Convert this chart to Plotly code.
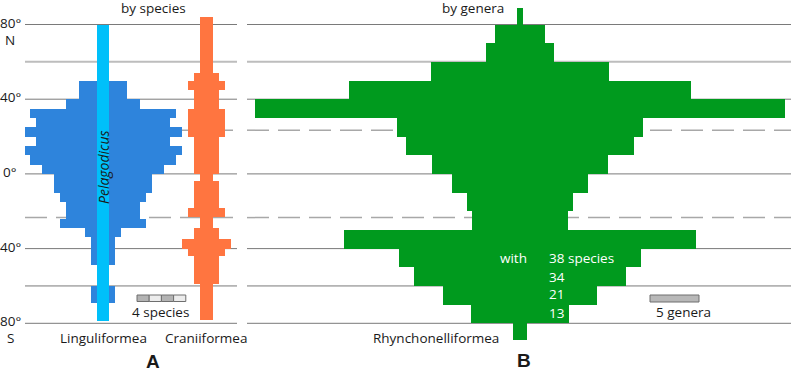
import plotly.graph_objects as go

# ---------------- data ----------------
# A: species per latitude band (band top / bottom in degrees, + = N)
LING_TOP = [50, 40, 35, 30, 25, 20, 15, 10, 5, 0, -10, -15, -24, -29, -34, -60]
LING_BOT = [40, 35, 30, 25, 20, 15, 10, 5, 0, -10, -15, -24, -29, -34, -49, -69]
LING_N = [4, 6, 12, 11, 13, 11, 13, 12, 10, 8, 7, 6, 7, 3, 2, 2]

PELAG_TOP = [80]
PELAG_BOT = [-79]
PELAG_N = [1]

CRAN_TOP = [84, 54, 50, 45, 35, 20, 0, -4, -18, -23, -29, -35, -40, -44, -59]
CRAN_BOT = [54, 50, 45, 35, 20, 0, -4, -18, -23, -29, -35, -40, -44, -59, -78]
CRAN_N = [1, 2, 3, 2, 3, 2, 1, 2, 3, 1, 2, 4, 3, 2, 1]

# B: genera per latitude band
RHYN_TOP = [89, 80, 70, 60, 50, 40, 30, 20, 10, 0, -10, -20, -30, -40, -50, -60, -70, -80]
RHYN_BOT = [80, 70, 60, 50, 40, 30, 20, 10, 0, -10, -20, -30, -40, -50, -60, -70, -80, -89]
RHYN_N = [0.7, 5.1, 7.0, 18.2, 34.8, 54.0, 25.2, 23.3, 17.9, 13.8, 10.9, 9.7,
          35.9, 24.6, 21.6, 15.8, 9.9, 1.5]

SPECIES_LABELS = ["38 species", "34", "21", "13"]
SPECIES_LABEL_LAT = [-45, -55, -64.5, -74.3]

GRID_LATS = [80, 60, 40, 23.4, 0, -23.4, -40, -60, -80]
GRID_KIND = ["solid", "light", "solid", "dash", "solid", "dash", "solid", "solid", "solid"]
LAT_LABELS = ["80°", "40°", "0°", "40°", "80°"]
LAT_LABEL_LAT = [80, 40, 0, -40, -80]

# ---------------- geometry ----------------
W, H = 791, 374
PX_PER_DEG = 1.8675
EQ_PX = 173.9


def lat_of(py):
    return (EQ_PX - py) / PX_PER_DEG


SP_PX = 12.2   # px per species
GE_PX = 9.8    # px per genus
L0, L1 = 25, 237
R0, R1 = 247, 791
LING_C = (103 - L0) / SP_PX
CRAN_C = (206.5 - L0) / SP_PX
RHYN_CPX = 520

BLUE = "#2E84DC"
CYAN = "#00C0FA"
ORANGE = "#FF7540"
GREEN = "#009A1E"
FONT = "Open Sans"
FS = 13.5
TXT = "#1a1a1a"


def kite(top, bot, n, center, color, xa, name):
    y = [(t + b) / 2 for t, b in zip(top, bot)]
    w = [t - b for t, b in zip(top, bot)]
    base = [center - v / 2 for v in n]
    return go.Bar(orientation="h", y=y, x=n, base=base, width=w, name=name,
                  marker=dict(color=color, line=dict(width=0)),
                  xaxis=xa, yaxis="y", cliponaxis=False, showlegend=False,
                  hoverinfo="skip")


fig = go.Figure()
fig.add_trace(kite(LING_TOP, LING_BOT, LING_N, LING_C, BLUE, "x", "Linguliformea"))
fig.add_trace(kite(PELAG_TOP, PELAG_BOT, PELAG_N, LING_C, CYAN, "x", "Pelagodicus"))
fig.add_trace(kite(CRAN_TOP, CRAN_BOT, CRAN_N, CRAN_C, ORANGE, "x", "Craniiformea"))
fig.add_trace(kite(RHYN_TOP, RHYN_BOT, RHYN_N, 0, GREEN, "x2", "Rhynchonelliformea"))

shapes = []
for lat, kind in zip(GRID_LATS, GRID_KIND):
    for xr in ["x domain", "x2 domain"]:
        if kind == "solid":
            line = dict(color="#7a7a7a", width=1)
        elif kind == "light":
            line = dict(color="#bdbdbd", width=2)
        else:
            line = dict(color="#a8a8a8", width=1.5, dash="22px,9px")
        shapes.append(dict(type="line", xref=xr, yref="y", x0=0, x1=1,
                           y0=lat, y1=lat, line=line, layer="below"))

# scale bar: 4 species (alternating segments)
sb_x0 = (137 - L0) / SP_PX
sb_y0, sb_y1 = lat_of(301.5), lat_of(295)
for i in range(4):
    shapes.append(dict(type="rect", xref="x", yref="y",
                       x0=sb_x0 + i, x1=sb_x0 + i + 1, y0=sb_y0, y1=sb_y1,
                       fillcolor="#b3b3b3" if i % 2 == 0 else "#ececec",
                       line=dict(color="#6e6e6e", width=1), layer="above"))
# scale bar: 5 genera
gb_x0 = (650 - RHYN_CPX) / GE_PX
shapes.append(dict(type="rect", xref="x2", yref="y",
                   x0=gb_x0, x1=gb_x0 + 5, y0=lat_of(302), y1=lat_of(295),
                   fillcolor="#b8b8b8", line=dict(color="#6e6e6e", width=1),
                   layer="above"))

ann = []


def txt(text, px, py, size=FS, color=TXT, xanchor="center", bold=False,
        family=FONT, angle=0, italic=False):
    t = text
    if bold:
        t = "<b>" + t + "</b>"
    if italic:
        t = "<i>" + t + "</i>"
    ann.append(dict(text=t, xref="paper", yref="paper", x=px / W, y=1 - py / H,
                    xanchor=xanchor, yanchor="middle", showarrow=False,
                    textangle=angle,
                    font=dict(family=family, size=size, color=color)))


for lab, lat in zip(LAT_LABELS, LAT_LABEL_LAT):
    txt(lab, 10, EQ_PX - lat * PX_PER_DEG - 2)
txt("N", 10, 40)
txt("S", 10, 338)
txt("by species", 153.5, 8)
txt("by genera", 472.5, 8)
txt("Linguliformea", 103.5, 338)
txt("Craniiformea", 206, 338)
txt("Rhynchonelliformea", 436, 338)
txt("A", 153, 361, size=19, bold=True, family="Liberation Sans")
txt("B", 524, 360, size=19, bold=True, family="Liberation Sans")
txt("4 species", 160, 312)
txt("5 genera", 683, 312)
txt("Pelagodicus", 103, 167, size=14, italic=True, angle=-90)
txt("with", 513, 258, color="white")
for lab, lat in zip(SPECIES_LABELS, SPECIES_LABEL_LAT):
    txt(lab, 547, EQ_PX - lat * PX_PER_DEG, color="white", xanchor="left")

fig.update_layout(
    width=W, height=H, margin=dict(l=0, r=0, t=0, b=0),
    paper_bgcolor="white", plot_bgcolor="rgba(0,0,0,0)",
    barmode="overlay", bargap=0, showlegend=False,
    xaxis=dict(domain=[L0 / W, L1 / W], range=[0, (L1 - L0) / SP_PX],
               visible=False, fixedrange=True),
    xaxis2=dict(domain=[R0 / W, R1 / W],
                range=[-(RHYN_CPX - R0) / GE_PX, (R1 - RHYN_CPX) / GE_PX],
                anchor="y", visible=False, fixedrange=True),
    yaxis=dict(domain=[0, 1], range=[lat_of(H), lat_of(0)], visible=False,
               fixedrange=True),
    shapes=shapes, annotations=ann,
)

fig.write_html(
    "out.html",
    config={"displayModeBar": False, "staticPlot": True},
    post_script="document.body.style.margin='0';document.body.style.overflow='hidden';",
)
